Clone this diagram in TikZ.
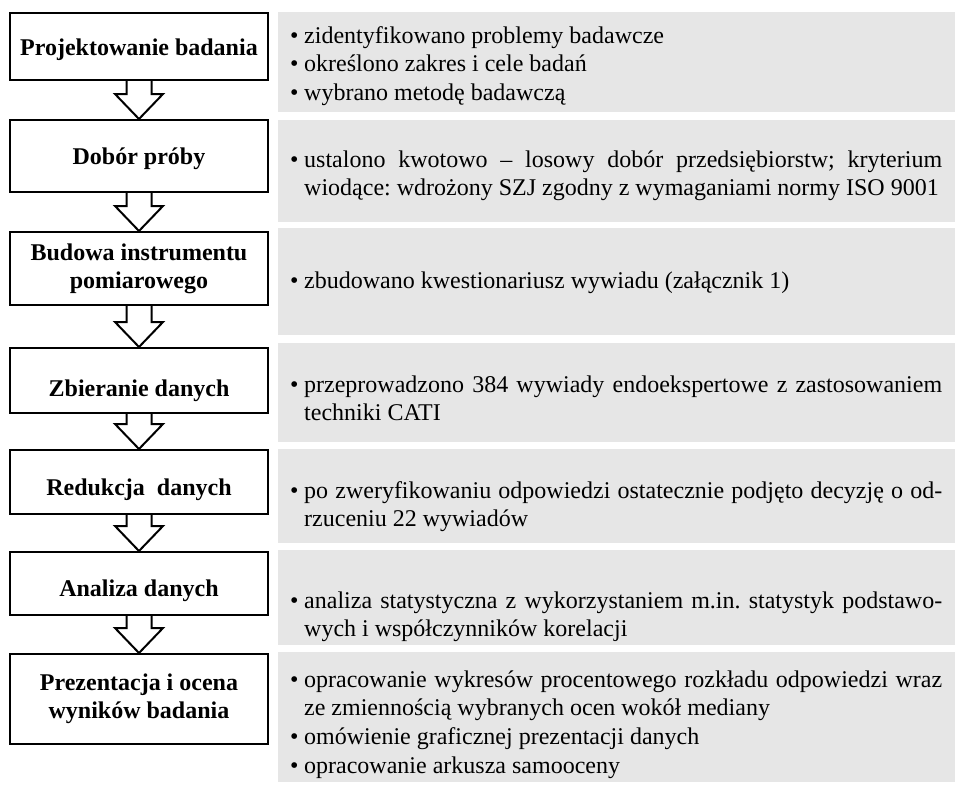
\documentclass[tikz,border=0pt]{standalone}
\usepackage{fontspec}
\setmainfont{Liberation Serif}
\usetikzlibrary{shadows}
\definecolor{panelgray}{RGB}{230,230,230}

% list lines: bullet + text, justified (J) or natural width (N)
\newcommand\stepBul{\makebox[14pt][l]{•}}
\newcommand\lineBJ[1]{\hbox to 652pt{\stepBul #1}}
\newcommand\lineBN[1]{\hbox{\stepBul #1}}
\newcommand\lineCN[1]{\hbox{\hspace*{14pt}#1}}
\newcommand\listblock[1]{\vtop{\frenchspacing\baselineskip=28.8pt #1}}

% hollow block arrow from the bottom of one step to the top of the next
\newcommand\flowarrow[2]{%
  \draw[arrowline] ([xshift=-12.5pt]#1.south) |- ([xshift=-24pt,yshift=25pt]#2.north)
    -- (#2.north) -- ([xshift=24pt,yshift=25pt]#2.north) -| ([xshift=12.5pt]#1.south);}

\pgfdeclarelayer{bg}
\pgfsetlayers{bg,main}

\tikzset{
  stepbox/.style={draw=black, fill=white, line width=2pt, minimum width=258pt,
    inner sep=0pt, align=center,
    font=\bfseries\fontsize{24}{28}\selectfont,
    drop shadow={shadow xshift=1pt, shadow yshift=-1pt, fill=black, opacity=0.8}},
  % single-line step: places the lettering #1 pt below the box centre
  oneline/.style={text height=16pt+2*#1, text depth=0pt},
  panel/.style={fill=panelgray, draw=none, minimum width=677pt, inner sep=0pt},
  listtext/.style={anchor=base west, inner sep=0pt,
    font=\fontsize{24}{28.8}\selectfont},
  arrowline/.style={draw=black, fill=white, line width=2pt, line join=miter}
}

\begin{document}
\begin{tikzpicture}[x=1pt, y=-1pt]
\useasboundingbox (0,0) rectangle (959,787);

% right-hand panels
\node[panel, minimum height=100pt] (g1) at (616.5,62) {};
\node[panel, minimum height=102pt] (g2) at (616.5,171) {};
\node[panel, minimum height=107pt] (g3) at (616.5,281.5) {};
\node[panel, minimum height=99pt]  (g4) at (616.5,392.5) {};
\node[panel, minimum height=94pt]  (g5) at (616.5,496) {};
\node[panel, minimum height=95pt]  (g6) at (616.5,597.5) {};
\node[panel, minimum height=130pt] (g7) at (616.5,717) {};

% panel texts
\node[listtext] (t1) at (290,43) {\listblock{%
  \lineBN{zidentyfikowano problemy badawcze}
  \lineBN{określono zakres i cele badań}
  \lineBN{wybrano metodę badawczą}}};
\node[listtext] (t2) at (290,167) {\listblock{%
  \lineBJ{ustalono kwotowo – losowy dobór przedsiębiorstw; kryterium}
  \lineCN{wiodące: wdrożony SZJ zgodny z wymaganiami normy ISO 9001}}};
\node[listtext] (t3) at (290,288) {\listblock{%
  \lineBN{zbudowano kwestionariusz wywiadu (załącznik 1)}}};
\node[listtext] (t4) at (290,392) {\listblock{%
  \lineBJ{przeprowadzono 384 wywiady endoekspertowe z zastosowaniem}
  \lineCN{techniki CATI}}};
\node[listtext] (t5) at (290,498) {\listblock{%
  \lineBJ{po zweryfikowaniu odpowiedzi ostatecznie podjęto decyzję o od-}
  \lineCN{rzuceniu 22 wywiadów}}};
\node[listtext] (t6) at (290,608) {\listblock{%
  \lineBJ{analiza statystyczna z wykorzystaniem m.in. statystyk podstawo-}
  \lineCN{wych i współczynników korelacji}}};
\node[listtext] (t7) at (290,687) {\listblock{%
  \lineBJ{opracowanie wykresów procentowego rozkładu odpowiedzi wraz}
  \lineCN{ze zmiennością wybranych ocen wokół mediany}
  \lineBN{omówienie graficznej prezentacji danych}
  \lineBN{opracowanie arkusza samooceny}}};

% process steps
\node[stepbox, oneline=0.5, minimum height=67pt] (b1) at (139,46.5)  {Projektowanie badania};
\node[stepbox, oneline=0,   minimum height=72pt] (b2) at (139,156)   {Dobór próby};
\node[stepbox, minimum height=73pt] (b3) at (139,268.5) {Budowa instrumentu\\pomiarowego};
\node[stepbox, oneline=7.5, minimum height=65pt] (b4) at (139,380.5) {Zbieranie danych};
\node[stepbox, oneline=5.5, minimum height=64pt] (b5) at (139,482)   {Redukcja\ \ danych};
\node[stepbox, oneline=4.5, minimum height=63pt] (b6) at (139,583.5) {Analiza danych};
\node[stepbox, minimum height=90pt] (b7) at (139,699) {Prezentacja i ocena\\wyników badania};

% arrows between steps
\begin{pgfonlayer}{bg}
  \flowarrow{b1}{b2}
  \flowarrow{b2}{b3}
  \flowarrow{b3}{b4}
  \flowarrow{b4}{b5}
  \flowarrow{b5}{b6}
  \flowarrow{b6}{b7}
\end{pgfonlayer}
\end{tikzpicture}
\end{document}
